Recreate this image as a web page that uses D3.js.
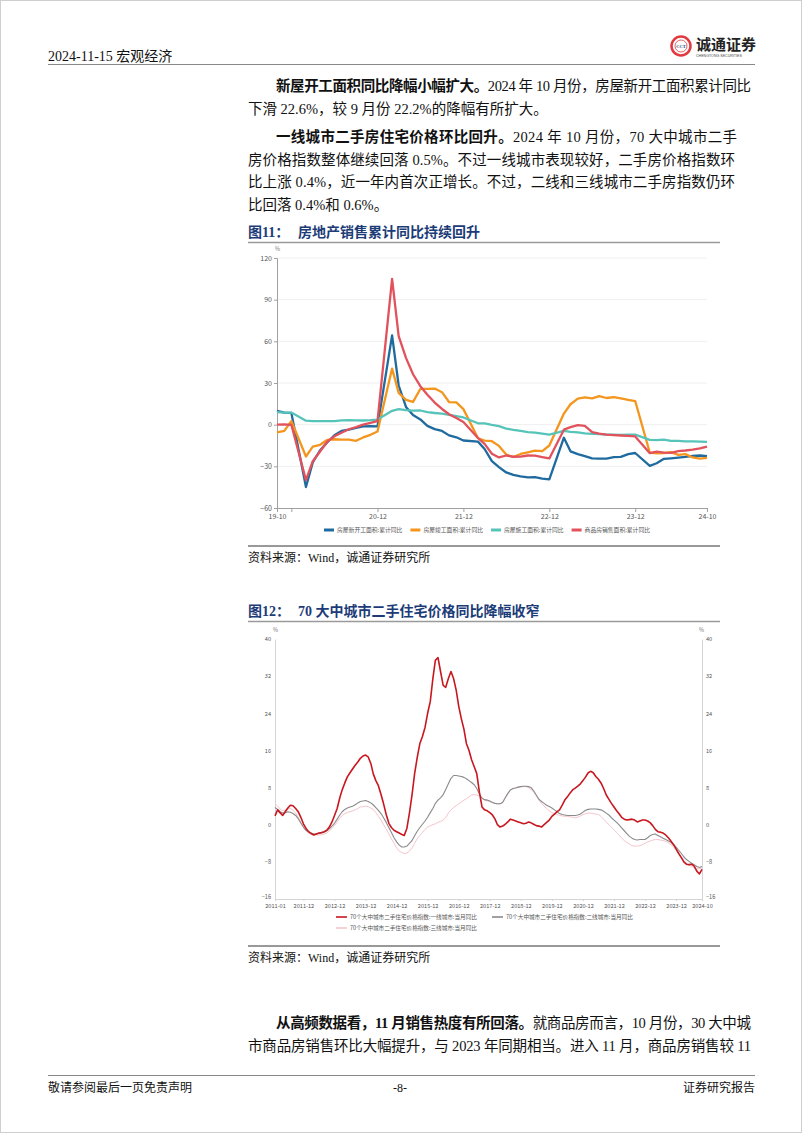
<!DOCTYPE html>
<html>
<head>
<meta charset="utf-8">
<script src="https://cdn.jsdelivr.net/npm/d3@7"></script>
<style>
body { margin: 0; background: #fff; }
svg text { font-family: "Liberation Serif", "Noto Sans CJK SC", serif; }
svg .chart text { font-family: "Noto Sans CJK SC", sans-serif; }
</style>
</head>
<body>
<svg id="page" width="802" height="1133"></svg>
<script>
// ---- chart 1 data: cumulative YoY (%), January is not published
const c1Months = [
  "2019-10","2019-11","2019-12",
  "2020-02","2020-03","2020-04","2020-05","2020-06","2020-07","2020-08","2020-09","2020-10","2020-11","2020-12",
  "2021-02","2021-03","2021-04","2021-05","2021-06","2021-07","2021-08","2021-09","2021-10","2021-11","2021-12",
  "2022-02","2022-03","2022-04","2022-05","2022-06","2022-07","2022-08","2022-09","2022-10","2022-11","2022-12",
  "2023-02","2023-03","2023-04","2023-05","2023-06","2023-07","2023-08","2023-09","2023-10","2023-11","2023-12",
  "2024-02","2024-03","2024-04","2024-05","2024-06","2024-07","2024-08","2024-09","2024-10"
];
const newStarts = [
  10.0, 8.6, 8.5,
  -44.9, -27.2, -18.4, -12.8, -7.6, -4.5, -3.6, -2.4, -1.3, -1.0, -1.2,
  64.3, 28.2, 12.8, 6.9, 3.8, -0.9, -3.2, -4.5, -7.7, -9.1, -11.4,
  -12.2, -17.5, -26.3, -30.6, -34.4, -36.1, -37.2, -38.0, -37.8, -38.9, -39.4,
  -9.4, -19.2, -21.2, -22.6, -24.3, -24.5, -24.4, -23.4, -23.2, -21.2, -20.4,
  -29.7, -27.8, -24.6, -24.2, -23.7, -23.2, -22.5, -22.2, -22.6
];
const completed = [
  -5.5, -4.5, 2.6,
  -22.9, -15.8, -14.5, -11.0, -10.5, -10.8, -10.8, -11.6, -9.2, -7.3, -4.9,
  40.4, 22.9, 17.9, 16.4, 25.7, 25.7, 26.0, 23.4, 16.3, 16.0, 11.2,
  -9.8, -11.5, -11.9, -15.3, -21.5, -23.3, -21.1, -19.9, -18.7, -19.0, -15.0,
  8.0, 14.7, 18.8, 19.6, 19.0, 20.5, 19.2, 19.8, 19.0, 17.9, 17.0,
  -20.2, -20.7, -20.4, -19.8, -21.8, -21.2, -23.6, -24.4, -23.9
];
const underConstruction = [
  9.0, 8.7, 8.7,
  2.9, 2.6, 2.5, 2.6, 2.6, 3.1, 3.3, 3.1, 3.0, 3.2, 3.7,
  10.0, 11.2, 10.5, 10.1, 10.2, 9.0, 8.4, 7.9, 7.1, 6.1, 5.2,
  1.0, 1.0, -0.1, -1.0, -2.8, -3.7, -4.5, -5.3, -5.7, -6.5, -7.2,
  -4.4, -5.2, -5.6, -6.2, -6.6, -6.8, -7.1, -7.1, -7.3, -7.2, -7.2,
  -11.0, -11.1, -10.8, -11.6, -11.6, -12.0, -12.0, -12.2, -12.4
];
const salesArea = [
  0.1, 0.2, -0.1,
  -39.9, -26.3, -19.3, -12.3, -8.4, -5.8, -3.3, -1.8, 0.0, 1.3, 2.6,
  104.9, 63.8, 48.1, 36.3, 27.7, 21.5, 15.9, 11.3, 7.5, 4.8, 1.9,
  -9.6, -13.8, -20.9, -23.6, -22.2, -23.1, -23.0, -22.2, -22.3, -23.3, -24.3,
  -3.6, -1.8, -0.4, -0.9, -5.3, -6.5, -7.1, -7.5, -7.8, -8.0, -8.5,
  -20.5, -19.4, -20.2, -20.3, -19.0, -18.6, -18.0, -17.1, -15.8
];
const c1Names = ["房屋新开工面积:累计同比", "房屋竣工面积:累计同比", "房屋施工面积:累计同比", "商品房销售面积:累计同比"];
const c1Colors = ["#1f6a9e", "#f4951d", "#56c4b9", "#e2525c"];
const c1Ticks = ["2019-10", "2019-12", "2020-12", "2021-12", "2022-12", "2023-12", "2024-10"];
const c1Labeled = ["2019-10", "2020-12", "2021-12", "2022-12", "2023-12", "2024-10"];
const c1YTicks = [-60, -30, 0, 30, 60, 90, 120];

// ---- chart 2 data: 70-city second-hand price index YoY (%), 2011-01 .. 2024-10 monthly
const c2Start = "2011-01", c2End = "2024-10";
const tier1 = [
  1.9, 3.2, 2.6, 2.0, 2.8, 3.6, 4.2, 4.1, 3.5, 2.8, 1.6, 0.2,
  -0.8, -1.5, -1.9, -2.2, -2.0, -1.8, -1.7, -1.5, -1.2, -0.5, 0.6, 2.0,
  3.5, 5.8, 7.5, 9.0, 10.3, 11.2, 12.0, 12.8, 13.5, 14.3, 14.8, 15.0,
  14.6, 13.2, 11.0, 9.5, 8.4, 6.5, 4.5, 2.2, 0.3, -0.6, -1.2, -1.5,
  -1.8, -2.1, -2.3, -0.8, 2.5, 6.5, 11.0, 14.5, 17.5, 19.0, 21.0, 24.0,
  26.5, 31.5, 35.4, 36.0, 33.0, 30.0, 29.6, 31.5, 33.0, 31.5, 29.0, 25.5,
  22.8, 20.5, 17.5, 16.0, 14.0, 12.5, 11.0, 7.0, 3.8, 3.2, 3.0, 2.6,
  2.1, 1.2, 0.0, -0.5, -0.3, 0.1, 0.6, 1.2, 1.0, 0.8, 0.6, 0.4,
  0.2, 0.3, 0.6, 0.4, 0.1, -0.2, -0.3, -0.5, 0.0, 0.5, 1.0, 1.8,
  2.3, 2.8, 3.2, 4.2, 5.3, 6.0, 6.8, 7.5, 7.9, 8.3, 8.8, 9.5,
  10.3, 11.2, 11.5, 11.2, 10.4, 9.8, 9.0, 7.8, 6.4, 5.5, 4.6, 3.8,
  3.0, 2.3, 1.6, 1.2, 1.0, 1.1, 1.2, 1.0, 0.6, 0.8, 1.0, 1.0,
  0.8, 0.4, -0.2, -1.0, -1.5, -1.6, -1.8, -2.2, -2.8, -3.5, -4.3, -5.2,
  -6.2, -7.1, -8.0, -8.5, -8.6, -8.5, -8.9, -10.0, -10.6, -9.6
];
const tier2 = [
  3.7, 3.3, 2.8, 2.5, 2.6, 2.8, 2.7, 2.4, 2.0, 1.3, 0.4, -0.5,
  -1.2, -1.6, -1.8, -2.0, -2.0, -1.9, -1.8, -1.6, -1.3, -0.9, -0.3, 0.3,
  1.2, 2.1, 2.8, 3.3, 3.6, 3.8, 4.0, 4.3, 4.7, 5.0, 5.1, 5.2,
  5.0, 4.7, 4.3, 3.7, 3.1, 2.4, 1.5, 0.5, -0.6, -1.7, -2.8, -3.7,
  -4.4, -4.8, -4.8, -4.6, -4.0, -3.4, -2.4, -1.4, -0.6, 0.1, 0.8, 1.6,
  2.6, 3.5, 4.6, 5.3, 5.8, 6.5, 7.6, 8.8, 10.0, 10.6, 10.6, 10.5,
  10.4, 10.2, 9.9, 9.5, 9.1, 8.6, 7.8, 6.6, 5.7, 5.4, 5.3, 5.1,
  4.8, 4.6, 4.5, 4.5, 4.8, 5.8, 6.7, 7.5, 7.8, 7.9, 8.1, 8.2,
  8.3, 8.3, 8.2, 8.0, 7.3, 6.4, 5.5, 5.0, 4.6, 4.2, 3.9, 3.6,
  3.2, 2.8, 2.4, 2.2, 2.1, 2.0, 2.0, 2.0, 2.0, 2.1, 2.3, 2.7,
  3.1, 3.3, 3.4, 3.4, 3.4, 3.3, 3.2, 2.9, 2.5, 2.1, 1.5, 1.0,
  0.5, -0.1, -0.7, -1.3, -1.9, -2.5, -2.9, -3.2, -3.3, -3.2, -3.2, -3.2,
  -2.8, -2.3, -2.1, -2.0, -2.3, -2.6, -2.9, -3.2, -3.5, -3.8, -4.2, -4.8,
  -5.5, -6.2, -6.9, -7.5, -7.9, -8.3, -8.6, -9.0, -9.2, -9.0
];
const tier3 = [
  4.5, 4.0, 3.4, 3.0, 3.2, 3.4, 3.5, 3.1, 2.5, 1.6, 0.4, -0.6,
  -1.3, -1.8, -2.1, -2.2, -2.2, -2.2, -2.2, -2.0, -1.8, -1.3, -0.8, -0.2,
  0.6, 1.4, 2.0, 2.4, 2.6, 2.8, 3.0, 3.2, 3.5, 3.8, 3.9, 4.0,
  3.9, 3.6, 3.3, 2.6, 1.8, 1.0, 0.0, -0.9, -2.0, -3.0, -4.0, -5.0,
  -5.7, -6.0, -6.2, -6.1, -5.7, -5.0, -4.0, -3.0, -2.3, -1.7, -1.0, -0.5,
  -0.2, 0.0, 0.2, 0.5, 0.7, 1.0, 1.6, 2.5, 3.2, 3.7, 4.1, 4.5,
  4.9, 5.3, 5.6, 6.0, 6.4, 6.5, 6.4, 6.2, 5.8, 5.3, 5.1, 5.0,
  4.8, 4.6, 4.5, 4.5, 4.8, 5.8, 6.8, 7.5, 7.8, 8.0, 8.1, 8.2,
  8.2, 8.2, 8.0, 7.6, 7.0, 6.2, 5.3, 4.6, 4.0, 3.5, 3.0, 2.6,
  2.4, 2.2, 2.0, 1.9, 1.8, 1.8, 1.7, 1.6, 1.5, 1.6, 1.9, 2.2,
  2.4, 2.5, 2.5, 2.4, 2.3, 2.2, 1.8, 1.2, 0.6, 0.0, -0.5, -1.1,
  -1.7, -2.3, -2.9, -3.4, -3.8, -4.2, -4.5, -4.6, -4.6, -4.5, -4.3, -4.0,
  -3.7, -3.5, -3.3, -3.2, -3.2, -3.3, -3.4, -3.6, -3.9, -4.3, -4.8, -5.5,
  -6.2, -7.0, -7.7, -8.3, -8.7, -9.0, -9.3, -9.5, -9.5, -9.3
];
const c2Names = [
  "70个大中城市二手住宅价格指数:一线城市:当月同比",
  "70个大中城市二手住宅价格指数:二线城市:当月同比",
  "70个大中城市二手住宅价格指数:三线城市:当月同比"
];
const c2Colors = ["#c8171f", "#8a8a8a", "#f6c4cb"];
const c2Widths = [1.6, 1.1, 1];
const c2Ticks = ["2011-01","2011-12","2012-12","2013-12","2014-12","2015-12","2016-12","2017-12","2018-12","2019-12","2020-12","2021-12","2022-12","2023-12","2024-10"];
const c2YTicks = [-16, -8, 0, 8, 16, 24, 32, 40];

const parse = d3.timeParse("%Y-%m");
const svg = d3.select("#page");

// page frame
svg.append("rect").attr("x", 0.5).attr("y", 0.5).attr("width", 801).attr("height", 1132)
  .attr("fill", "none").attr("stroke", "#cfcfcf");

// ---- header
svg.append("text").attr("x", 48).attr("y", 61).attr("font-size", 14).attr("fill", "#111").text("2024-11-15 宏观经济");
svg.append("line").attr("x1", 48).attr("x2", 755).attr("y1", 64.5).attr("y2", 64.5).attr("stroke", "#888").attr("stroke-width", 1);
const logo = svg.append("g");
logo.append("circle").attr("cx", 681).attr("cy", 46).attr("r", 9.5).attr("fill", "#fff").attr("stroke", "#e0393f").attr("stroke-width", 2.5);
logo.append("circle").attr("cx", 681).attr("cy", 46).attr("r", 6).attr("fill", "#fff").attr("stroke", "#e0393f").attr("stroke-width", 0.8);
logo.append("text").attr("x", 681).attr("y", 47.6).attr("text-anchor", "middle").attr("font-size", 4.5).attr("font-weight", "bold").attr("fill", "#1d3f7a").text("CCT");
logo.append("text").attr("x", 696).attr("y", 50).attr("font-size", 15).attr("font-weight", "bold").attr("fill", "#222").style("font-family", "Noto Sans CJK SC").text("诚通证券");
logo.append("text").attr("x", 696).attr("y", 57).attr("font-size", 3.6).attr("fill", "#444").style("font-family", "Liberation Sans").text("CHENGTONG SECURITIES");

// ---- body text lines
function textLine(y, x0, x1, parts) {
  const t = svg.append("text").attr("x", x0).attr("y", y).attr("font-size", 14.5).attr("fill", "#111");
  parts.forEach(p => t.append("tspan").attr("font-weight", p[1] ? "bold" : "normal").text(p[0]));
  if (x1) t.attr("textLength", x1 - x0).attr("lengthAdjust", "spacing");
}
textLine(91, 276, 751, [["新屋开工面积同比降幅小幅扩大。", 1], ["2024 年 10 月份，房屋新开工面积累计同比", 0]]);
textLine(113.5, 248, null, [["下滑 22.6%，较 9 月份 22.2%的降幅有所扩大。", 0]]);
textLine(141.5, 276, 737, [["一线城市二手房住宅价格环比回升。", 1], ["2024 年 10 月份，70 大中城市二手", 0]]);
textLine(164.5, 248, 735, [["房价格指数整体继续回落 0.5%。不过一线城市表现较好，二手房价格指数环", 0]]);
textLine(187, 248, 735, [["比上涨 0.4%，近一年内首次正增长。不过，二线和三线城市二手房指数仍环", 0]]);
textLine(209.5, 248, null, [["比回落 0.4%和 0.6%。", 0]]);
textLine(1027.5, 276, 751, [["从高频数据看，11 月销售热度有所回落。", 1], ["就商品房而言，10 月份，30 大中城", 0]]);
textLine(1050.5, 248, 751, [["市商品房销售环比大幅提升，与 2023 年同期相当。进入 11 月，商品房销售较 11", 0]]);

// ---- figure titles and source lines
function figTitle(y, num, title) {
  svg.append("text").attr("x", 248).attr("y", y).attr("font-size", 14).attr("font-weight", "bold").attr("fill", "#1c3c78").text(num);
  svg.append("text").attr("x", 298).attr("y", y).attr("font-size", 14).attr("font-weight", "bold").attr("fill", "#1c3c78").text(title);
  svg.append("line").attr("x1", 248).attr("x2", 720).attr("y1", y + 5.5).attr("y2", y + 5.5).attr("stroke", "#9a9a9a").attr("stroke-width", 1.6);
}
function source(y) {
  svg.append("line").attr("x1", 248).attr("x2", 720).attr("y1", y).attr("y2", y).attr("stroke", "#333").attr("stroke-width", 1);
  svg.append("text").attr("x", 248).attr("y", y + 16).attr("font-size", 12).attr("fill", "#111").text("资料来源：Wind，诚通证券研究所");
}
figTitle(237, "图11：", "房地产销售累计同比持续回升");
source(546);
figTitle(616, "图12：", "70 大中城市二手住宅价格同比降幅收窄");
source(946);

// ---- footer
svg.append("line").attr("x1", 48).attr("x2", 755).attr("y1", 1075.5).attr("y2", 1075.5).attr("stroke", "#888").attr("stroke-width", 1);
svg.append("text").attr("x", 48).attr("y", 1092).attr("font-size", 12).attr("fill", "#111").text("敬请参阅最后一页免责声明");
svg.append("text").attr("x", 400).attr("y", 1092).attr("font-size", 12).attr("text-anchor", "middle").attr("fill", "#111").text("-8-");
svg.append("text").attr("x", 755).attr("y", 1092).attr("font-size", 12).attr("text-anchor", "end").attr("fill", "#111").text("证券研究报告");

// ================= chart 1 =================
const g1 = svg.append("g").attr("class", "chart");
const x1 = d3.scaleTime().domain([parse("2019-10"), parse("2024-10")]).range([277, 707]);
const y1 = d3.scaleLinear().domain([-60, 120]).range([508, 258]);

g1.append("g").selectAll("line").data(c1YTicks.filter(d => d > -60)).join("line")
  .attr("x1", 277).attr("x2", 707).attr("y1", d => y1(d)).attr("y2", d => y1(d))
  .attr("stroke", "#efefef").attr("stroke-width", 1);

const ax1y = g1.append("g").attr("transform", "translate(277,0)")
  .call(d3.axisLeft(y1).tickValues(c1YTicks).tickSize(3).tickPadding(2));
const ax1x = g1.append("g").attr("transform", "translate(0,508)")
  .call(d3.axisBottom(x1).tickValues(c1Ticks.map(parse)).tickSize(4).tickPadding(2)
    .tickFormat(d => c1Labeled.includes(d3.timeFormat("%Y-%m")(d)) ? d3.timeFormat("%y-%m")(d) : ""));
[ax1x, ax1y].forEach(a => {
  a.select(".domain").attr("stroke", "#a0a0a0");
  a.selectAll(".tick line").attr("stroke", "#a0a0a0");
  a.selectAll("text").attr("font-size", 7).attr("fill", "#555");
});
g1.append("text").attr("x", 275).attr("y", 251).attr("font-size", 5.5).attr("fill", "#777").text("%");

const c1Series = [newStarts, completed, underConstruction, salesArea];
const line1 = d3.line().x(d => x1(d.date)).y(d => y1(d.v));
c1Series.forEach((vals, i) => {
  const pts = c1Months.map((m, j) => ({ date: parse(m), v: vals[j] }));
  g1.append("path").datum(pts).attr("d", line1).attr("fill", "none")
    .attr("stroke", c1Colors[i]).attr("stroke-width", 2.3).attr("stroke-linejoin", "round");
});

// legend 1
const leg1 = g1.append("g");
let lx = 0;
c1Names.forEach((name, i) => {
  const it = leg1.append("g").attr("transform", `translate(${lx},0)`);
  it.append("line").attr("x1", 0).attr("x2", 10).attr("y1", 0).attr("y2", 0).attr("stroke", c1Colors[i]).attr("stroke-width", 3);
  const t = it.append("text").attr("x", 13).attr("y", 2).attr("font-size", 5.8).attr("fill", "#555").text(name);
  lx += 13 + t.node().getComputedTextLength() + 8;
});
leg1.attr("transform", `translate(${487 - (lx - 8) / 2},530)`);

// ================= chart 2 =================
const g2 = svg.append("g").attr("class", "chart");
const x2 = d3.scaleTime().domain([parse(c2Start), parse(c2End)]).range([275, 702]);
const y2 = d3.scaleLinear().domain([-16, 40]).range([899, 639]);
const c2Dates = d3.timeMonth.range(parse(c2Start), d3.timeMonth.offset(parse(c2End), 1));

const ax2l = g2.append("g").attr("transform", "translate(275,0)")
  .call(d3.axisLeft(y2).tickValues(c2YTicks).tickSize(0).tickPadding(4));
const ax2r = g2.append("g").attr("transform", "translate(702,0)")
  .call(d3.axisRight(y2).tickValues(c2YTicks).tickSize(0).tickPadding(4));
const ax2x = g2.append("g").attr("transform", "translate(0,899)")
  .call(d3.axisBottom(x2).tickValues(c2Ticks.map(parse)).tickSize(2).tickPadding(3.5).tickFormat(d3.timeFormat("%Y-%m")));
[ax2l, ax2r, ax2x].forEach(a => {
  a.select(".domain").attr("stroke", "#d4d4d4");
  a.selectAll(".tick line").attr("stroke", "#d4d4d4");
  a.selectAll("text").attr("font-size", 5.6).attr("fill", "#555");
});
// keep the -16 labels clear of the date labels below them
ax2l.selectAll(".tick text").filter(d => d === -16).attr("dy", "-0.1em");
ax2r.selectAll(".tick text").filter(d => d === -16).attr("dy", "-0.1em");
g2.append("text").attr("x", 273).attr("y", 632).attr("font-size", 5.5).attr("fill", "#777").text("%");
g2.append("text").attr("x", 699).attr("y", 632).attr("font-size", 5.5).attr("fill", "#777").text("%");

const line2 = d3.line().x(d => x2(d.date)).y(d => y2(d.v));
[tier3, tier2, tier1].forEach((vals, k) => {
  const i = 2 - k;
  const pts = c2Dates.map((d, j) => ({ date: d, v: vals[j] }));
  g2.append("path").datum(pts).attr("d", line2).attr("fill", "none")
    .attr("stroke", c2Colors[i]).attr("stroke-width", c2Widths[i]).attr("stroke-linejoin", "round");
});

// legend 2
const leg2Pos = [[336, 917], [492, 917], [336, 928]];
c2Names.forEach((name, i) => {
  const it = g2.append("g").attr("transform", `translate(${leg2Pos[i][0]},${leg2Pos[i][1]})`);
  it.append("line").attr("x1", 0).attr("x2", 11).attr("y1", 0).attr("y2", 0).attr("stroke", c2Colors[i]).attr("stroke-width", 1.6);
  it.append("text").attr("x", 14).attr("y", 2).attr("font-size", 5.6).attr("fill", "#555").text(name);
});
</script>
</body>
</html>
